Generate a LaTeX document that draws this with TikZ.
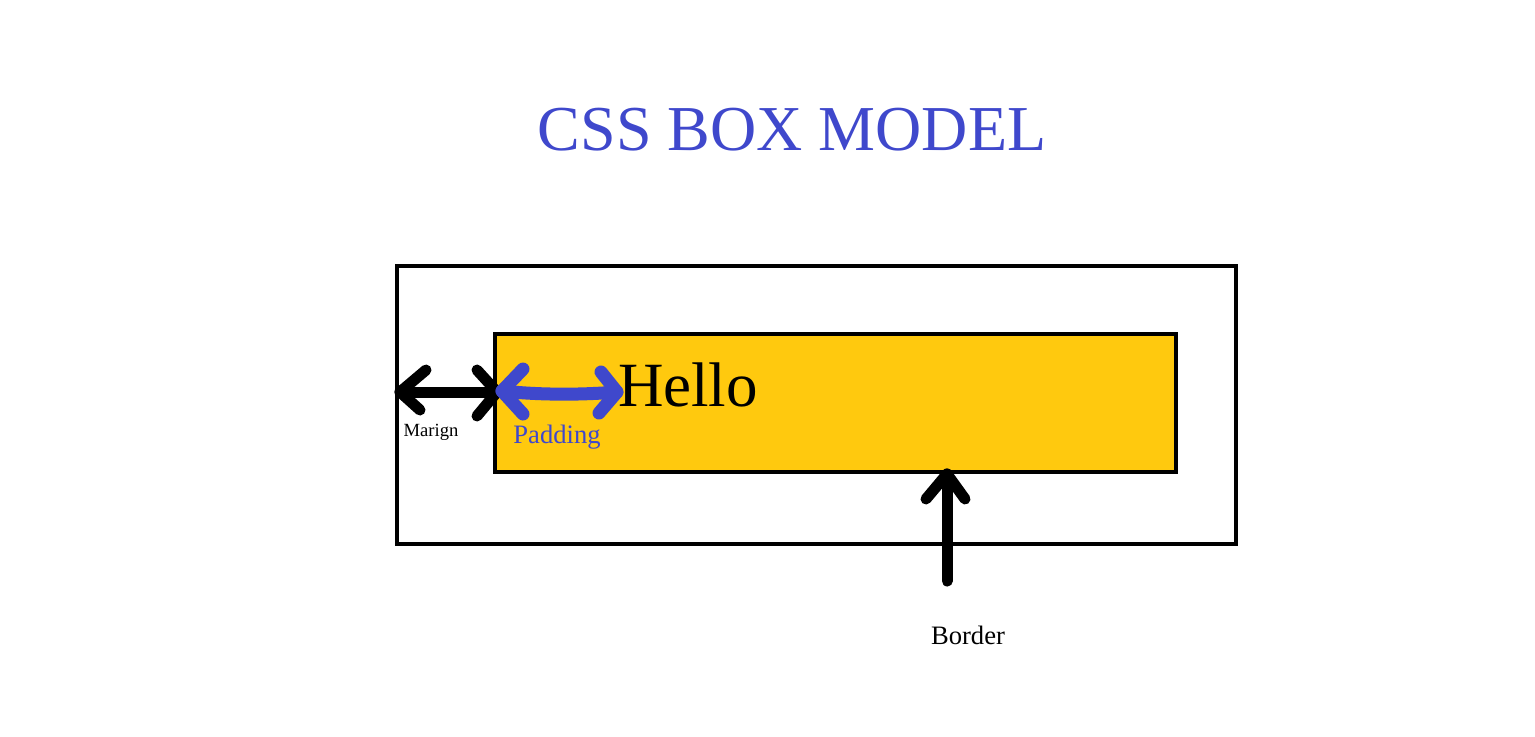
\documentclass[tikz,border=0pt]{standalone}
\usepackage{fontspec}
\setmainfont{Liberation Serif}
\definecolor{pblue}{RGB}{63,72,204}
\definecolor{pyellow}{RGB}{255,201,14}
\begin{document}
\begin{tikzpicture}[x=0.5pt,y=-0.5pt,
  boxline/.style={line width=2pt},
  fat/.style={line width=5.5pt,line cap=round,line join=round},
  lbl/.style={inner sep=0pt,anchor=base}]
\useasboundingbox (0,0) rectangle (1535,736);
\node[lbl,text=pblue,font=\fontsize{32}{36}\selectfont] (title) at (792,150) {CSS BOX MODEL};
\draw[boxline] (397,266) rectangle (1236,544);
\draw[boxline,fill=pyellow] (495,334) rectangle (1176,472);
\node[lbl,font=\fontsize{31.5}{36}\selectfont] (hello) at (688,406) {Hello};
% margin arrow
\coordinate (mL) at (400,392);
\coordinate (mR) at (497,392);
\draw[fat] (mL) -- (mR);
\draw[fat] ([shift={(26,-22)}]mL) -- (mL) -- ([shift={(20,18)}]mL);
\draw[fat] ([shift={(-20,-22)}]mR) -- (mR) -- ([shift={(-20,24)}]mR);
\node[lbl,font=\fontsize{9.3}{11}\selectfont] (marign) at (431,436) {Marign};
% padding arrow
\coordinate (pL) at (502,391);
\coordinate (pR) at (617,392);
\draw[line width=6.5pt,line cap=round,line join=round,pblue] (pL) .. controls (540,395) and (580,395) .. (pR);
\draw[line width=6.5pt,line cap=round,line join=round,pblue] ([shift={(21,-22)}]pL) -- (pL) -- ([shift={(21,23)}]pL);
\draw[line width=6.5pt,line cap=round,line join=round,pblue] ([shift={(-16,-20)}]pR) -- (pR) -- ([shift={(-18,21)}]pR);
\node[lbl,text=pblue,font=\fontsize{13.3}{15}\selectfont] (padding) at (557,443) {Padding};
% border arrow
\coordinate (bT) at (947,474);
\coordinate (bB) at (947,581);
\draw[fat] (bB) -- (bT);
\draw[fat] ([shift={(-21,25)}]bT) -- (bT) -- ([shift={(18,25)}]bT);
\node[lbl,font=\fontsize{13.3}{15}\selectfont] (border) at (968,644) {Border};
\end{tikzpicture}
\end{document}
